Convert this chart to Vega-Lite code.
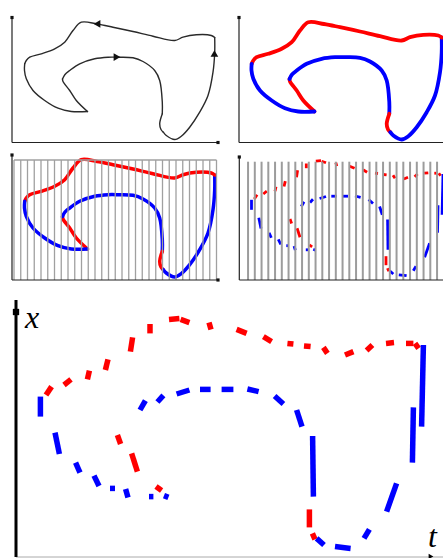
{
  "$schema": "https://vega.github.io/schema/vega-lite/v6.json",
  "padding": 0,
  "config": {"view": {"stroke": null}, "concat": {"spacing": 0}},
  "datasets": {
    "curve": [
      {"seg": "A", "dir": "back", "i": 1, "t": 75.5, "x": 31},
      {"seg": "A", "dir": "back", "i": 2, "t": 64.3, "x": 42},
      {"seg": "A", "dir": "back", "i": 3, "t": 57.7, "x": 52},
      {"seg": "A", "dir": "back", "i": 4, "t": 51, "x": 61},
      {"seg": "A", "dir": "back", "i": 5, "t": 50.5, "x": 63.5},
      {"seg": "B", "dir": "fwd", "i": 5, "t": 50.5, "x": 63.5},
      {"seg": "B", "dir": "fwd", "i": 6, "t": 53, "x": 68},
      {"seg": "B", "dir": "fwd", "i": 7, "t": 57.7, "x": 72},
      {"seg": "B", "dir": "fwd", "i": 8, "t": 67.7, "x": 78.7},
      {"seg": "B", "dir": "fwd", "i": 9, "t": 82.7, "x": 83.7},
      {"seg": "B", "dir": "fwd", "i": 10, "t": 96, "x": 85.3},
      {"seg": "B", "dir": "fwd", "i": 11, "t": 106, "x": 85.3},
      {"seg": "B", "dir": "fwd", "i": 12, "t": 121, "x": 84.7},
      {"seg": "B", "dir": "fwd", "i": 13, "t": 131, "x": 81},
      {"seg": "B", "dir": "fwd", "i": 14, "t": 142.7, "x": 72},
      {"seg": "B", "dir": "fwd", "i": 15, "t": 147.7, "x": 62},
      {"seg": "B", "dir": "fwd", "i": 16, "t": 150.3, "x": 40.3},
      {"seg": "B", "dir": "fwd", "i": 17, "t": 150.3, "x": 28.7},
      {"seg": "C", "dir": "back", "i": 17, "t": 150.3, "x": 28.7},
      {"seg": "C", "dir": "back", "i": 18, "t": 147.7, "x": 18.7},
      {"seg": "C", "dir": "back", "i": 19, "t": 149, "x": 13},
      {"seg": "C", "dir": "back", "i": 20, "t": 151.3, "x": 10.3},
      {"seg": "D", "dir": "fwd", "i": 20, "t": 151.3, "x": 10.3},
      {"seg": "D", "dir": "fwd", "i": 21, "t": 154.3, "x": 7},
      {"seg": "D", "dir": "fwd", "i": 22, "t": 162.7, "x": 3},
      {"seg": "D", "dir": "fwd", "i": 23, "t": 169.3, "x": 6.3},
      {"seg": "D", "dir": "fwd", "i": 24, "t": 177.7, "x": 15.3},
      {"seg": "D", "dir": "fwd", "i": 25, "t": 187.7, "x": 30.3},
      {"seg": "D", "dir": "fwd", "i": 26, "t": 196, "x": 47},
      {"seg": "D", "dir": "fwd", "i": 27, "t": 201, "x": 70.3},
      {"seg": "D", "dir": "fwd", "i": 28, "t": 202.7, "x": 90},
      {"seg": "D", "dir": "fwd", "i": 29, "t": 202.7, "x": 105},
      {"seg": "E", "dir": "back", "i": 29, "t": 202.7, "x": 105},
      {"seg": "E", "dir": "back", "i": 30, "t": 199.3, "x": 107},
      {"seg": "E", "dir": "back", "i": 31, "t": 184.3, "x": 107.7},
      {"seg": "E", "dir": "back", "i": 32, "t": 171, "x": 105.3},
      {"seg": "E", "dir": "back", "i": 33, "t": 162.7, "x": 102},
      {"seg": "E", "dir": "back", "i": 34, "t": 141, "x": 106.3},
      {"seg": "E", "dir": "back", "i": 35, "t": 121, "x": 111},
      {"seg": "E", "dir": "back", "i": 36, "t": 101, "x": 115.3},
      {"seg": "E", "dir": "back", "i": 37, "t": 85, "x": 118.5},
      {"seg": "E", "dir": "back", "i": 38, "t": 69.3, "x": 120.3},
      {"seg": "E", "dir": "back", "i": 39, "t": 61, "x": 112},
      {"seg": "E", "dir": "back", "i": 40, "t": 52.7, "x": 100.3},
      {"seg": "E", "dir": "back", "i": 41, "t": 42.7, "x": 93.7},
      {"seg": "E", "dir": "back", "i": 42, "t": 29.3, "x": 88.7},
      {"seg": "E", "dir": "back", "i": 43, "t": 17.7, "x": 85.3},
      {"seg": "E", "dir": "back", "i": 44, "t": 14.3, "x": 82},
      {"seg": "E", "dir": "back", "i": 45, "t": 12.7, "x": 78.7},
      {"seg": "F", "dir": "fwd", "i": 45, "t": 12.7, "x": 78.7},
      {"seg": "F", "dir": "fwd", "i": 46, "t": 12.5, "x": 72},
      {"seg": "F", "dir": "fwd", "i": 47, "t": 14.3, "x": 63.7},
      {"seg": "F", "dir": "fwd", "i": 48, "t": 21, "x": 52},
      {"seg": "F", "dir": "fwd", "i": 49, "t": 32.7, "x": 42},
      {"seg": "F", "dir": "fwd", "i": 50, "t": 46, "x": 34.3},
      {"seg": "F", "dir": "fwd", "i": 51, "t": 59.3, "x": 31},
      {"seg": "F", "dir": "fwd", "i": 52, "t": 75.5, "x": 31}
    ],
    "frags": [
      {"dir": "back", "t1": 15, "x1": 81, "t2": 17.8, "x2": 85.2},
      {"dir": "back", "t1": 24, "x1": 86, "t2": 27.5, "x2": 88.8},
      {"dir": "back", "t1": 35.7, "x1": 88.8, "t2": 36.7, "x2": 93.2},
      {"dir": "back", "t1": 44.7, "x1": 93.5, "t2": 46, "x2": 98.8},
      {"dir": "back", "t1": 57.2, "x1": 102.7, "t2": 58.3, "x2": 109.8},
      {"dir": "back", "t1": 67, "x1": 111.8, "t2": 67, "x2": 116.5},
      {"dir": "back", "t1": 76.5, "x1": 118.8, "t2": 81.7, "x2": 119.3},
      {"dir": "back", "t1": 82.3, "x1": 118.8, "t2": 86.7, "x2": 117.2},
      {"dir": "back", "t1": 96.5, "x1": 117.3, "t2": 97.5, "x2": 113.8},
      {"dir": "back", "t1": 110.3, "x1": 113.8, "t2": 115.3, "x2": 111.8},
      {"dir": "back", "t1": 123.7, "x1": 110.2, "t2": 127.8, "x2": 107.7},
      {"dir": "back", "t1": 135.7, "x1": 106.8, "t2": 138.7, "x2": 106.5},
      {"dir": "back", "t1": 144, "x1": 105.5, "t2": 147.3, "x2": 105.2},
      {"dir": "back", "t1": 153.7, "x1": 104.8, "t2": 155.7, "x2": 101.8},
      {"dir": "back", "t1": 164.5, "x1": 101, "t2": 168.7, "x2": 102.7},
      {"dir": "back", "t1": 175.3, "x1": 103.2, "t2": 178.2, "x2": 106},
      {"dir": "back", "t1": 185, "x1": 106.8, "t2": 189, "x2": 107.2},
      {"dir": "back", "t1": 195, "x1": 106.8, "t2": 198.7, "x2": 106.8},
      {"dir": "back", "t1": 199.5, "x1": 106.8, "t2": 201.3, "x2": 104.3},
      {"dir": "back", "t1": 50.7, "x1": 61, "t2": 52.3, "x2": 56.5},
      {"dir": "back", "t1": 57.8, "x1": 51.8, "t2": 60.7, "x2": 42.7},
      {"dir": "back", "t1": 70, "x1": 35.2, "t2": 72.8, "x2": 33.2},
      {"dir": "back", "t1": 146.7, "x1": 23.8, "t2": 146.7, "x2": 14.8},
      {"dir": "back", "t1": 148.2, "x1": 11.8, "t2": 149.5, "x2": 8.8},
      {"dir": "fwd", "t1": 12.2, "x1": 80.2, "t2": 12.2, "x2": 70.2},
      {"dir": "fwd", "t1": 19.5, "x1": 62.2, "t2": 21.7, "x2": 51.5},
      {"dir": "fwd", "t1": 29.8, "x1": 47.2, "t2": 32, "x2": 42.2},
      {"dir": "fwd", "t1": 39, "x1": 40.7, "t2": 41.5, "x2": 35.5},
      {"dir": "fwd", "t1": 47, "x1": 34.3, "t2": 49.5, "x2": 34.3},
      {"dir": "fwd", "t1": 54.8, "x1": 34, "t2": 56, "x2": 29.8},
      {"dir": "fwd", "t1": 66.5, "x1": 30.2, "t2": 68.7, "x2": 30.2},
      {"dir": "fwd", "t1": 74, "x1": 30.7, "t2": 76.2, "x2": 29.8},
      {"dir": "fwd", "t1": 62, "x1": 73.5, "t2": 64.7, "x2": 78.2},
      {"dir": "fwd", "t1": 70.7, "x1": 77.5, "t2": 73.7, "x2": 80.8},
      {"dir": "fwd", "t1": 80.3, "x1": 81.5, "t2": 86.7, "x2": 83.5},
      {"dir": "fwd", "t1": 92, "x1": 83.8, "t2": 97.3, "x2": 83.8},
      {"dir": "fwd", "t1": 102.8, "x1": 83.8, "t2": 108.7, "x2": 83.8},
      {"dir": "fwd", "t1": 115.7, "x1": 84, "t2": 121.3, "x2": 82.7},
      {"dir": "fwd", "t1": 129.3, "x1": 80.5, "t2": 133.7, "x2": 76.5},
      {"dir": "fwd", "t1": 140.3, "x1": 73.5, "t2": 143, "x2": 65.2},
      {"dir": "fwd", "t1": 148.3, "x1": 60.5, "t2": 148.7, "x2": 30.2},
      {"dir": "fwd", "t1": 150.3, "x1": 9.3, "t2": 154, "x2": 6},
      {"dir": "fwd", "t1": 159.5, "x1": 5.2, "t2": 167.3, "x2": 4.3},
      {"dir": "fwd", "t1": 174, "x1": 9.3, "t2": 176.7, "x2": 13.8},
      {"dir": "fwd", "t1": 185.3, "x1": 22.7, "t2": 190.3, "x2": 36.8},
      {"dir": "fwd", "t1": 198.2, "x1": 47.2, "t2": 198.7, "x2": 74.8},
      {"dir": "fwd", "t1": 202.8, "x1": 65.2, "t2": 203.7, "x2": 106}
    ],
    "lines": [
      {"p": "p1", "t1": 0, "x1": 0, "t2": 0, "x2": 125},
      {"p": "p1", "t1": 0, "x1": 0, "t2": 206, "x2": 0},
      {"p": "p2", "t1": 0, "x1": 0, "t2": 0, "x2": 125},
      {"p": "p2", "t1": 0, "x1": 0, "t2": 210, "x2": 0},
      {"p": "p3", "t1": 0, "x1": 0, "t2": 0, "x2": 126},
      {"p": "p3", "t1": 0, "x1": 0, "t2": 206, "x2": 0},
      {"p": "p4", "t1": 0, "x1": 0, "t2": 0, "x2": 124},
      {"p": "p4", "t1": 0, "x1": 0, "t2": 210, "x2": 0},
      {"p": "p5y", "t1": 0, "x1": 0, "t2": 0, "x2": 128.5},
      {"p": "p5x", "t1": 0, "x1": 0, "t2": 215, "x2": 0},
      {"p": "g3", "t1": 2, "x1": 120, "t2": 204.5, "x2": 120},
      {"p": "g3", "t1": 2, "x1": 0, "t2": 2, "x2": 120},
      {"p": "g3", "t1": 8.75, "x1": 0, "t2": 8.75, "x2": 120},
      {"p": "g3", "t1": 15.5, "x1": 0, "t2": 15.5, "x2": 120},
      {"p": "g3", "t1": 22.25, "x1": 0, "t2": 22.25, "x2": 120},
      {"p": "g3", "t1": 29, "x1": 0, "t2": 29, "x2": 120},
      {"p": "g3", "t1": 35.75, "x1": 0, "t2": 35.75, "x2": 120},
      {"p": "g3", "t1": 42.5, "x1": 0, "t2": 42.5, "x2": 120},
      {"p": "g3", "t1": 49.25, "x1": 0, "t2": 49.25, "x2": 120},
      {"p": "g3", "t1": 56, "x1": 0, "t2": 56, "x2": 120},
      {"p": "g3", "t1": 62.75, "x1": 0, "t2": 62.75, "x2": 120},
      {"p": "g3", "t1": 69.5, "x1": 0, "t2": 69.5, "x2": 120},
      {"p": "g3", "t1": 76.25, "x1": 0, "t2": 76.25, "x2": 120},
      {"p": "g3", "t1": 83, "x1": 0, "t2": 83, "x2": 120},
      {"p": "g3", "t1": 89.75, "x1": 0, "t2": 89.75, "x2": 120},
      {"p": "g3", "t1": 96.5, "x1": 0, "t2": 96.5, "x2": 120},
      {"p": "g3", "t1": 103.25, "x1": 0, "t2": 103.25, "x2": 120},
      {"p": "g3", "t1": 110, "x1": 0, "t2": 110, "x2": 120},
      {"p": "g3", "t1": 116.75, "x1": 0, "t2": 116.75, "x2": 120},
      {"p": "g3", "t1": 123.5, "x1": 0, "t2": 123.5, "x2": 120},
      {"p": "g3", "t1": 130.25, "x1": 0, "t2": 130.25, "x2": 120},
      {"p": "g3", "t1": 137, "x1": 0, "t2": 137, "x2": 120},
      {"p": "g3", "t1": 143.75, "x1": 0, "t2": 143.75, "x2": 120},
      {"p": "g3", "t1": 150.5, "x1": 0, "t2": 150.5, "x2": 120},
      {"p": "g3", "t1": 157.25, "x1": 0, "t2": 157.25, "x2": 120},
      {"p": "g3", "t1": 164, "x1": 0, "t2": 164, "x2": 120},
      {"p": "g3", "t1": 170.75, "x1": 0, "t2": 170.75, "x2": 120},
      {"p": "g3", "t1": 177.5, "x1": 0, "t2": 177.5, "x2": 120},
      {"p": "g3", "t1": 184.25, "x1": 0, "t2": 184.25, "x2": 120},
      {"p": "g3", "t1": 191, "x1": 0, "t2": 191, "x2": 120},
      {"p": "g3", "t1": 197.75, "x1": 0, "t2": 197.75, "x2": 120},
      {"p": "g3", "t1": 204.5, "x1": 0, "t2": 204.5, "x2": 120},
      {"p": "g4", "t1": 8.75, "x1": 0, "t2": 8.75, "x2": 118.3},
      {"p": "g4", "t1": 15.5, "x1": 0, "t2": 15.5, "x2": 118.3},
      {"p": "g4", "t1": 22.25, "x1": 0, "t2": 22.25, "x2": 118.3},
      {"p": "g4", "t1": 29, "x1": 0, "t2": 29, "x2": 118.3},
      {"p": "g4", "t1": 35.75, "x1": 0, "t2": 35.75, "x2": 118.3},
      {"p": "g4", "t1": 42.5, "x1": 0, "t2": 42.5, "x2": 118.3},
      {"p": "g4", "t1": 49.25, "x1": 0, "t2": 49.25, "x2": 118.3},
      {"p": "g4", "t1": 56, "x1": 0, "t2": 56, "x2": 118.3},
      {"p": "g4", "t1": 62.75, "x1": 0, "t2": 62.75, "x2": 118.3},
      {"p": "g4", "t1": 69.5, "x1": 0, "t2": 69.5, "x2": 118.3},
      {"p": "g4", "t1": 76.25, "x1": 0, "t2": 76.25, "x2": 118.3},
      {"p": "g4", "t1": 83, "x1": 0, "t2": 83, "x2": 118.3},
      {"p": "g4", "t1": 89.75, "x1": 0, "t2": 89.75, "x2": 118.3},
      {"p": "g4", "t1": 96.5, "x1": 0, "t2": 96.5, "x2": 118.3},
      {"p": "g4", "t1": 103.25, "x1": 0, "t2": 103.25, "x2": 118.3},
      {"p": "g4", "t1": 110, "x1": 0, "t2": 110, "x2": 118.3},
      {"p": "g4", "t1": 116.75, "x1": 0, "t2": 116.75, "x2": 118.3},
      {"p": "g4", "t1": 123.5, "x1": 0, "t2": 123.5, "x2": 118.3},
      {"p": "g4", "t1": 130.25, "x1": 0, "t2": 130.25, "x2": 118.3},
      {"p": "g4", "t1": 137, "x1": 0, "t2": 137, "x2": 118.3},
      {"p": "g4", "t1": 143.75, "x1": 0, "t2": 143.75, "x2": 118.3},
      {"p": "g4", "t1": 150.5, "x1": 0, "t2": 150.5, "x2": 118.3},
      {"p": "g4", "t1": 157.25, "x1": 0, "t2": 157.25, "x2": 118.3},
      {"p": "g4", "t1": 164, "x1": 0, "t2": 164, "x2": 118.3},
      {"p": "g4", "t1": 170.75, "x1": 0, "t2": 170.75, "x2": 118.3},
      {"p": "g4", "t1": 177.5, "x1": 0, "t2": 177.5, "x2": 118.3},
      {"p": "g4", "t1": 184.25, "x1": 0, "t2": 184.25, "x2": 118.3},
      {"p": "g4", "t1": 191, "x1": 0, "t2": 191, "x2": 118.3},
      {"p": "g4", "t1": 197.75, "x1": 0, "t2": 197.75, "x2": 118.3}
    ],
    "ends": [
      {"p": "p1", "t": 0, "x": 125},
      {"p": "p1", "t": 206, "x": 0},
      {"p": "p2", "t": 0, "x": 125},
      {"p": "p3", "t": 0, "x": 125},
      {"p": "p3", "t": 206, "x": 0},
      {"p": "p4", "t": 0, "x": 123},
      {"p": "p5", "t": 0, "x": 122.5}
    ],
    "arrows": [
      {"p": "p1", "dir": "left", "t": 85, "x": 118.6},
      {"p": "p1", "dir": "right", "t": 105, "x": 85.4},
      {"p": "p1", "dir": "up", "t": 202.4, "x": 89},
      {"p": "p5", "dir": "right", "t": 207.5, "x": 0.3}
    ],
    "labels": [
      {"label": "x", "t": 4.5, "x": 114.5},
      {"label": "t", "t": 206, "x": 5}
    ]
  },
  "vconcat": [
    {
      "hconcat": [
        {
          "width": 230, "height": 147,
          "encoding": {
            "x": {"field": "t", "type": "quantitative", "scale": {"domain": [-12, 218], "nice": false, "zero": false}, "axis": null},
            "y": {"field": "x", "type": "quantitative", "scale": {"domain": [-4.5, 142.5], "nice": false, "zero": false}, "axis": null}
          },
          "layer": [
            {
              "data": {"name": "curve"},
              "mark": {"type": "line", "interpolate": "catmull-rom", "color": "#2a2a2a", "strokeWidth": 1.4, "strokeCap": "round"},
              "encoding": {
                "detail": {"field": "seg", "type": "nominal"},
                "order": {"field": "i", "type": "quantitative"}
              }
            },
            {
              "data": {"name": "arrows"},
              "transform": [{"filter": "datum.p == 'p1'"}],
              "mark": {"type": "point", "filled": true, "color": "#111111", "size": 60, "opacity": 1},
              "encoding": {
                "shape": {"field": "dir", "type": "nominal", "scale": {"domain": ["left", "right", "up"], "range": ["triangle-left", "triangle-right", "triangle-up"]}, "legend": null}
              }
            },
            {
              "data": {"name": "lines"},
              "transform": [{"filter": "datum.p == 'p1'"}],
              "mark": {"type": "rule", "color": "#222222", "strokeWidth": 1.2},
              "encoding": {
                "x": {"field": "t1", "type": "quantitative"},
                "y": {"field": "x1", "type": "quantitative"},
                "x2": {"field": "t2"},
                "y2": {"field": "x2"}
              }
            },
            {
              "data": {"name": "ends"},
              "transform": [{"filter": "datum.p == 'p1'"}],
              "mark": {"type": "point", "shape": "square", "filled": true, "color": "#111111", "size": 10, "opacity": 1}
            }
          ]
        },
        {
          "width": 213, "height": 147,
          "encoding": {
            "x": {"field": "t", "type": "quantitative", "scale": {"domain": [-9, 204], "nice": false, "zero": false}, "axis": null},
            "y": {"field": "x", "type": "quantitative", "scale": {"domain": [-4.5, 142.5], "nice": false, "zero": false}, "axis": null}
          },
          "layer": [
            {
              "data": {"name": "curve"},
              "mark": {"type": "line", "interpolate": "catmull-rom", "strokeWidth": 3.8, "strokeCap": "round", "clip": true},
              "encoding": {
                "color": {"field": "dir", "type": "nominal", "scale": {"domain": ["back", "fwd"], "range": ["#ff0000", "#0000ff"]}, "legend": null},
                "detail": {"field": "seg", "type": "nominal"},
                "order": {"field": "i", "type": "quantitative"}
              }
            },
            {
              "data": {"name": "lines"},
              "transform": [{"filter": "datum.p == 'p2'"}],
              "mark": {"type": "rule", "color": "#222222", "strokeWidth": 1.2, "clip": true},
              "encoding": {
                "x": {"field": "t1", "type": "quantitative"},
                "y": {"field": "x1", "type": "quantitative"},
                "x2": {"field": "t2"},
                "y2": {"field": "x2"}
              }
            },
            {
              "data": {"name": "ends"},
              "transform": [{"filter": "datum.p == 'p2'"}],
              "mark": {"type": "point", "shape": "square", "filled": true, "color": "#111111", "size": 10, "opacity": 1}
            }
          ]
        }
      ]
    },
    {
      "hconcat": [
        {
          "width": 230, "height": 138,
          "encoding": {
            "x": {"field": "t", "type": "quantitative", "scale": {"domain": [-12, 218], "nice": false, "zero": false}, "axis": null},
            "y": {"field": "x", "type": "quantitative", "scale": {"domain": [-5, 133], "nice": false, "zero": false}, "axis": null}
          },
          "layer": [
            {
              "data": {"name": "curve"},
              "mark": {"type": "line", "interpolate": "catmull-rom", "strokeWidth": 3.5, "strokeCap": "round"},
              "encoding": {
                "color": {"field": "dir", "type": "nominal", "scale": {"domain": ["back", "fwd"], "range": ["#ff0000", "#0000ff"]}, "legend": null},
                "detail": {"field": "seg", "type": "nominal"},
                "order": {"field": "i", "type": "quantitative"}
              }
            },
            {
              "data": {"name": "lines"},
              "transform": [{"filter": "datum.p == 'g3'"}],
              "mark": {"type": "rule", "color": "#a0a0a0", "strokeWidth": 1.3},
              "encoding": {
                "x": {"field": "t1", "type": "quantitative"},
                "y": {"field": "x1", "type": "quantitative"},
                "x2": {"field": "t2"},
                "y2": {"field": "x2"}
              }
            },
            {
              "data": {"name": "lines"},
              "transform": [{"filter": "datum.p == 'p3'"}],
              "mark": {"type": "rule", "color": "#222222", "strokeWidth": 1.2},
              "encoding": {
                "x": {"field": "t1", "type": "quantitative"},
                "y": {"field": "x1", "type": "quantitative"},
                "x2": {"field": "t2"},
                "y2": {"field": "x2"}
              }
            },
            {
              "data": {"name": "ends"},
              "transform": [{"filter": "datum.p == 'p3'"}],
              "mark": {"type": "point", "shape": "square", "filled": true, "color": "#111111", "size": 10, "opacity": 1}
            }
          ]
        },
        {
          "width": 213, "height": 138,
          "encoding": {
            "x": {"field": "t", "type": "quantitative", "scale": {"domain": [-9.3, 203.7], "nice": false, "zero": false}, "axis": null},
            "y": {"field": "x", "type": "quantitative", "scale": {"domain": [-5, 133], "nice": false, "zero": false}, "axis": null}
          },
          "layer": [
            {
              "data": {"name": "frags"},
              "mark": {"type": "rule", "strokeWidth": 2.8, "strokeCap": "butt", "clip": true},
              "encoding": {
                "x": {"field": "t1", "type": "quantitative"},
                "y": {"field": "x1", "type": "quantitative"},
                "x2": {"field": "t2"},
                "y2": {"field": "x2"},
                "color": {"field": "dir", "type": "nominal", "scale": {"domain": ["back", "fwd"], "range": ["#ff0000", "#0000ff"]}, "legend": null}
              }
            },
            {
              "data": {"name": "lines"},
              "transform": [{"filter": "datum.p == 'g4'"}],
              "mark": {"type": "rule", "color": "#9c9c9c", "strokeWidth": 2, "clip": true},
              "encoding": {
                "x": {"field": "t1", "type": "quantitative"},
                "y": {"field": "x1", "type": "quantitative"},
                "x2": {"field": "t2"},
                "y2": {"field": "x2"}
              }
            },
            {
              "data": {"name": "lines"},
              "transform": [{"filter": "datum.p == 'p4'"}],
              "mark": {"type": "rule", "color": "#222222", "strokeWidth": 1.2, "clip": true},
              "encoding": {
                "x": {"field": "t1", "type": "quantitative"},
                "y": {"field": "x1", "type": "quantitative"},
                "x2": {"field": "t2"},
                "y2": {"field": "x2"}
              }
            },
            {
              "data": {"name": "ends"},
              "transform": [{"filter": "datum.p == 'p4'"}],
              "mark": {"type": "point", "shape": "square", "filled": true, "color": "#111111", "size": 10, "opacity": 1}
            }
          ]
        }
      ]
    },
    {
      "width": 443, "height": 273,
      "encoding": {
        "x": {"field": "t", "type": "quantitative", "scale": {"domain": [-8, 213.5], "nice": false, "zero": false}, "axis": null},
        "y": {"field": "x", "type": "quantitative", "scale": {"domain": [-0.5, 136], "nice": false, "zero": false}, "axis": null}
      },
      "layer": [
        {
          "data": {"name": "frags"},
          "mark": {"type": "rule", "strokeWidth": 5.5, "strokeCap": "butt", "clip": true},
          "encoding": {
            "x": {"field": "t1", "type": "quantitative"},
            "y": {"field": "x1", "type": "quantitative"},
            "x2": {"field": "t2"},
            "y2": {"field": "x2"},
            "color": {"field": "dir", "type": "nominal", "scale": {"domain": ["back", "fwd"], "range": ["#ff0000", "#0000ff"]}, "legend": null}
          }
        },
        {
          "data": {"name": "lines"},
          "transform": [{"filter": "datum.p == 'p5x'"}],
          "mark": {"type": "rule", "color": "#aaaaaa", "strokeWidth": 1, "clip": true},
          "encoding": {
            "x": {"field": "t1", "type": "quantitative"},
            "y": {"field": "x1", "type": "quantitative"},
            "x2": {"field": "t2"},
            "y2": {"field": "x2"}
          }
        },
        {
          "data": {"name": "lines"},
          "transform": [{"filter": "datum.p == 'p5y'"}],
          "mark": {"type": "rule", "color": "#000000", "strokeWidth": 3},
          "encoding": {
            "x": {"field": "t1", "type": "quantitative"},
            "y": {"field": "x1", "type": "quantitative"},
            "x2": {"field": "t2"},
            "y2": {"field": "x2"}
          }
        },
        {
          "data": {"name": "ends"},
          "transform": [{"filter": "datum.p == 'p5'"}],
          "mark": {"type": "point", "shape": "square", "filled": true, "color": "#000000", "size": 40, "opacity": 1}
        },
        {
          "data": {"name": "arrows"},
          "transform": [{"filter": "datum.p == 'p5'"}],
          "mark": {"type": "point", "shape": "triangle-right", "filled": true, "color": "#000000", "size": 30, "opacity": 1, "clip": true}
        },
        {
          "data": {"name": "labels"},
          "mark": {"type": "text", "font": "Liberation Serif", "fontStyle": "italic", "fontSize": 32, "align": "left", "baseline": "alphabetic", "color": "#000000"},
          "encoding": {
            "text": {"field": "label", "type": "nominal"}
          }
        }
      ]
    }
  ]
}
